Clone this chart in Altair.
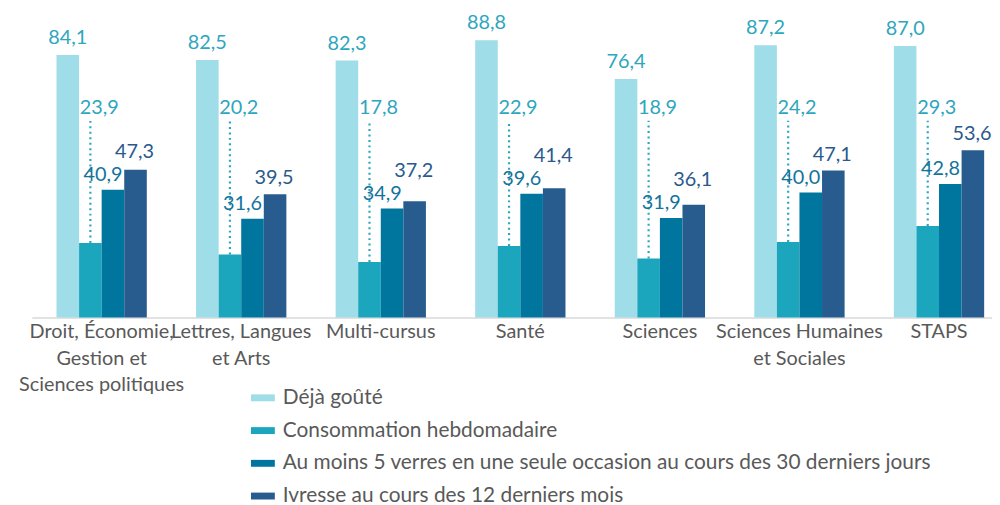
import altair as alt
import pandas as pd

categories = [
    "Droit, Économie,\nGestion et\nSciences politiques",
    "Lettres, Langues\net Arts",
    "Multi-cursus",
    "Santé",
    "Sciences",
    "Sciences Humaines\net Sociales",
    "STAPS",
]
series = [
    "Déjà goûté",
    "Consommation hebdomadaire",
    "Au moins 5 verres en une seule occasion au cours des 30 derniers jours",
    "Ivresse au cours des 12 derniers mois",
]
deja = [84.1, 82.5, 82.3, 88.8, 76.4, 87.2, 87.0]
hebdo = [23.9, 20.2, 17.8, 22.9, 18.9, 24.2, 29.3]
cinq = [40.9, 31.6, 34.9, 39.6, 31.9, 40.0, 42.8]
ivresse = [47.3, 39.5, 37.2, 41.4, 36.1, 47.1, 53.6]

colors = ["#9FDDE8", "#1BA6BE", "#00769E", "#285C8E"]
label_colors = ["#2DA6BE", "#2DA6BE", "#14739C", "#2A5A8C"]

# minimal gap (in value units) between the labels of the last two series
MIN_GAP = 7.0

rows = []
for si, (s, vals) in enumerate(zip(series, [deja, hebdo, cinq, ivresse])):
    for ci, (c, v) in enumerate(zip(categories, vals)):
        anchor = v
        if si == 3:
            anchor = max(v, cinq[ci] + MIN_GAP)
        rows.append({"cat": c, "serie": s, "val": v, "anchor": anchor,
                     "lab": f"{v:.1f}".replace(".", ",")})
df = pd.DataFrame(rows)

FONT = "Lato"
LEADER_LABEL = 67.0
LEADER_TOP = 63.0

xsc = alt.Scale(domain=categories, paddingInner=0.353, paddingOuter=0.177, range=[0, 985])
ysc = alt.Scale(domain=[0, 95], nice=False)
xo = alt.XOffset("serie:N", sort=series, scale=alt.Scale(domain=series, paddingInner=0, paddingOuter=0))

base = alt.Chart(df)

bars = base.mark_bar().encode(
    x=alt.X("cat:N", sort=categories, scale=xsc, title=None,
            axis=alt.Axis(labelExpr="split(datum.label, '\\n')", labelAngle=0,
                          labelFont=FONT, labelFontSize=20, labelColor="#595959",
                          labelLineHeight=27, labelOverlap=False, labelLimit=400,
                          labelPadding=4, ticks=False, domainColor="#D9D9D9",
                          domainWidth=1.5, labelBaseline="top")),
    xOffset=xo,
    y=alt.Y("val:Q", scale=ysc, axis=None),
    color=alt.Color("serie:N", sort=series,
                    scale=alt.Scale(domain=series, range=colors),
                    legend=alt.Legend(title=None, orient="none", legendX=221, legendY=368,
                                      direction="vertical",
                                      symbolType="M-1,-0.29H1V0.29H-1Z", symbolSize=576,
                                      symbolStrokeWidth=0,
                                      labelFont=FONT, labelFontSize=21, labelColor="#595959",
                                      labelLimit=900, rowPadding=11, labelOffset=8)),
)

layers = [bars]

# leader line for weekly consumption
leader = base.transform_filter(alt.datum.serie == series[1]).mark_rule(
    color="#2DA6BE", strokeWidth=2.2, strokeDash=[2, 3.5]
).encode(
    x=alt.X("cat:N", sort=categories, scale=xsc),
    xOffset=xo,
    y=alt.Y("val:Q", scale=ysc),
    y2=alt.datum(LEADER_TOP),
)
layers.append(leader)

dxs = [0, 9, -10, -1]
dys = [-17, 0, -15, -16]
for i, s in enumerate(series):
    if i == 1:
        t = base.transform_filter(alt.datum.serie == s).mark_text(
            font=FONT, fontSize=20, color=label_colors[i], dx=dxs[i], baseline="middle"
        ).encode(
            x=alt.X("cat:N", sort=categories, scale=xsc),
            xOffset=xo,
            y=alt.datum(LEADER_LABEL),
            text="lab:N",
        )
    else:
        t = base.transform_filter(alt.datum.serie == s).mark_text(
            font=FONT, fontSize=20, color=label_colors[i], dx=dxs[i], dy=dys[i], baseline="middle"
        ).encode(
            x=alt.X("cat:N", sort=categories, scale=xsc),
            xOffset=xo,
            y=alt.Y("anchor:Q", scale=ysc),
            text="lab:N",
        )
    layers.append(t)

chart = alt.layer(*layers).properties(
    width=968, height=299,
    autosize=alt.AutoSizeParams(type="none"),
    padding={"left": 24, "top": 11, "right": 0, "bottom": 187},
).configure_view(stroke=None)

chart.save("out.html", embed_options={"renderer": "svg", "actions": False})
